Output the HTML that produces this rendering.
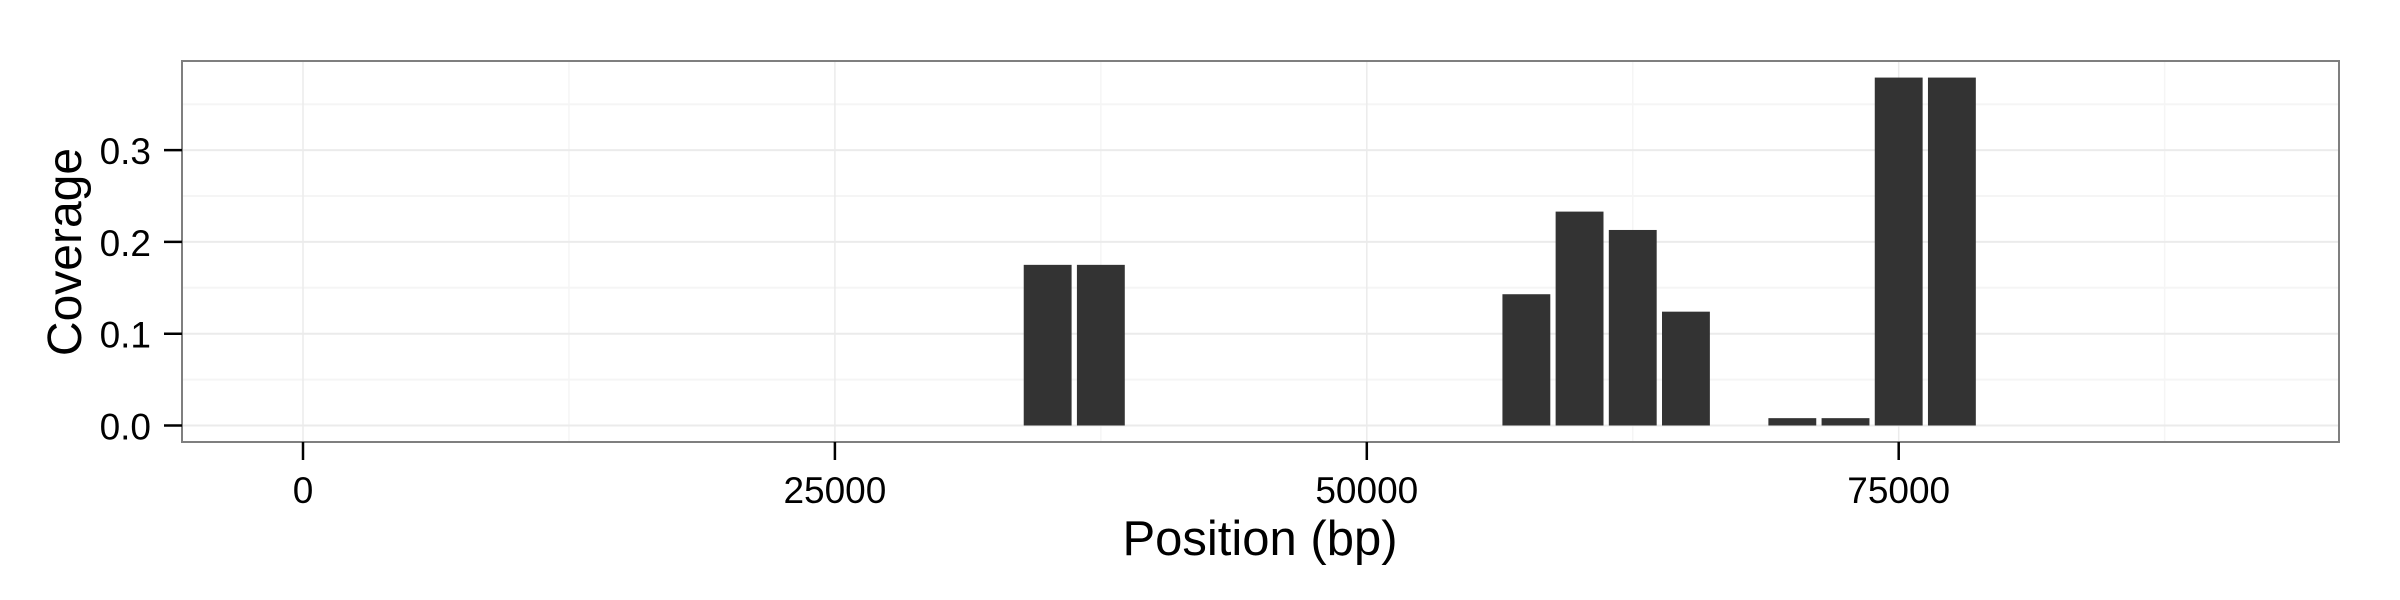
<!DOCTYPE html>
<html><head><meta charset="utf-8"><style>
html,body{margin:0;padding:0;background:#fff;}
svg{display:block;font-family:"Liberation Sans",sans-serif;}
</style></head><body>
<svg id="chart" width="2400" height="600" viewBox="0 0 2400 600">
<rect width="2400" height="600" fill="#fff"/>
<g id="grid"></g>
<g id="bars"></g>
<rect x="182" y="61" width="2157" height="381" fill="none" stroke="#7f7f7f" stroke-width="2"/>
<g id="axes"></g>
<text x="1260" y="555" font-size="49" text-anchor="middle">Position (bp)</text>
<text transform="translate(81,252) rotate(-90)" font-size="48" text-anchor="middle">Coverage</text>
</svg>
<script>
const positions = [35000, 37500, 57500, 60000, 62500, 65000, 70000, 72500, 75000, 77500];
const coverage = [0.175, 0.175, 0.143, 0.233, 0.213, 0.124, 0.008, 0.008, 0.379, 0.379];
const xTicks = [0, 25000, 50000, 75000];
const xTickLabels = ["0", "25000", "50000", "75000"];
const yTicks = [0, 0.1, 0.2, 0.3];
const yTickLabels = ["0.0", "0.1", "0.2", "0.3"];
const binWidth = 2500;

const L=182,R=2339,T=61,B=442;
const xPx = v => 303 + v*(531.9/25000);
const yPx = v => 425.5 - v*918;
const NS="http://www.w3.org/2000/svg";
function mk(tag,attrs,parent){const e=document.createElementNS(NS,tag);for(const k in attrs)e.setAttribute(k,attrs[k]);parent.appendChild(e);return e;}
const grid=document.getElementById('grid'),bars=document.getElementById('bars'),axes=document.getElementById('axes');
for(let v=-12500; v<=100000; v+=25000){const x=xPx(v);if(x>L&&x<R){const l=mk('line',{x1:x,x2:x,y1:T,y2:B,stroke:'#f5f5f5','stroke-width':1.5},grid);

}}
for(let v=0.05; v<0.42; v+=0.1){const y=yPx(v);if(y>T&&y<B){const l=mk('line',{x1:L,x2:R,y1:y,y2:y,stroke:'#f5f5f5','stroke-width':2},grid);

}}
xTicks.forEach((v,i)=>{const x=xPx(v);
const g=mk('line',{x1:x,x2:x,y1:T,y2:B,stroke:'#ebebeb','stroke-width':1.5},grid);


const t=mk('line',{x1:x,x2:x,y1:B,y2:460,stroke:'#000','stroke-width':2.5},axes);


const tx=mk('text',{x:x,y:503,'font-size':37,'text-anchor':'middle',fill:'#000'},axes);tx.textContent=xTickLabels[i];

});
yTicks.forEach((v,i)=>{const y=yPx(v);
const g=mk('line',{x1:L,x2:R,y1:y,y2:y,stroke:'#ebebeb','stroke-width':2},grid);


const t=mk('line',{x1:164,x2:L,y1:y,y2:y,stroke:'#000','stroke-width':2.5},axes);


const tx=mk('text',{x:151,y:y+14,'font-size':37,'text-anchor':'end',fill:'#000'},axes);tx.textContent=yTickLabels[i];

});
positions.forEach((p,i)=>{const x0=xPx(p-binWidth*0.45),x1=xPx(p+binWidth*0.45);
const y0=yPx(coverage[i]),y1=yPx(0);
const r=mk('rect',{x:x0,y:y0,width:x1-x0,height:y1-y0,fill:'#333333'},bars);

});
</script>
</body></html>
